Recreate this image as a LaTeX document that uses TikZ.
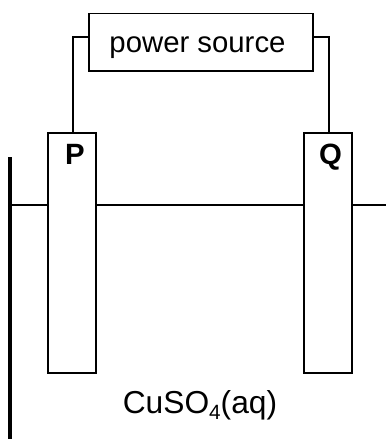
\documentclass[tikz,border=0pt]{standalone}
\usepackage{fontspec}
\setmainfont{Liberation Sans}
\begin{document}
\begin{tikzpicture}[x=0.75pt,y=-0.75pt,
  wire/.style={draw=black,line width=1.1pt,line cap=butt},
  box/.style={draw=black,line width=1.1pt,fill=white,inner sep=0pt,outer sep=0pt},
  lbl/.style={inner sep=0pt,anchor=base,font=\fontsize{22}{26}\selectfont}]
\useasboundingbox (0,0) rectangle (386,439);
% wall
\coordinate (walltop) at (10,157);
\coordinate (wallbot) at (10,439);
\draw[line width=3pt] (walltop) -- (wallbot);
% electrodes
\node[box,minimum width=36pt,minimum height=180pt] (P) at (72,253) {};
\node[box,minimum width=36pt,minimum height=180pt] (Q) at (328,253) {};
\node[box,minimum width=168pt,minimum height=43.2pt] (S) at (201,42.3) {};
% liquid level
\coordinate (wallL) at (10,205);
\coordinate (edgeR) at (386,205);
\coordinate (Pl) at (48,205);
\coordinate (Pr) at (96,205);
\coordinate (Ql) at (304,205);
\coordinate (Qr) at (352,205);
\draw[wire] (wallL) -- (Pl);
\draw[wire] (Pr) -- (Ql);
\draw[wire] (Qr) -- (edgeR);
% wires
\draw[wire] (S.west |- 0,37) -| ([xshift=0.75pt]P.north);
\draw[wire] (S.east |- 0,37) -| ([xshift=0.75pt]Q.north);
% text
\node[lbl] (st) at (197.5,52) {power source};
\node[lbl,font=\fontsize{22}{26}\selectfont\bfseries] (pl) at (75,164) {P};
\node[lbl,font=\fontsize{22}{26}\selectfont\bfseries] (ql) at (330.5,164) {Q};
\node[lbl,font=\fontsize{23.8}{28}\selectfont] (cu) at (200,413) {CuSO\raisebox{-0.2em}{\fontsize{15.5}{18}\selectfont 4}(aq)};
\end{tikzpicture}
\end{document}
